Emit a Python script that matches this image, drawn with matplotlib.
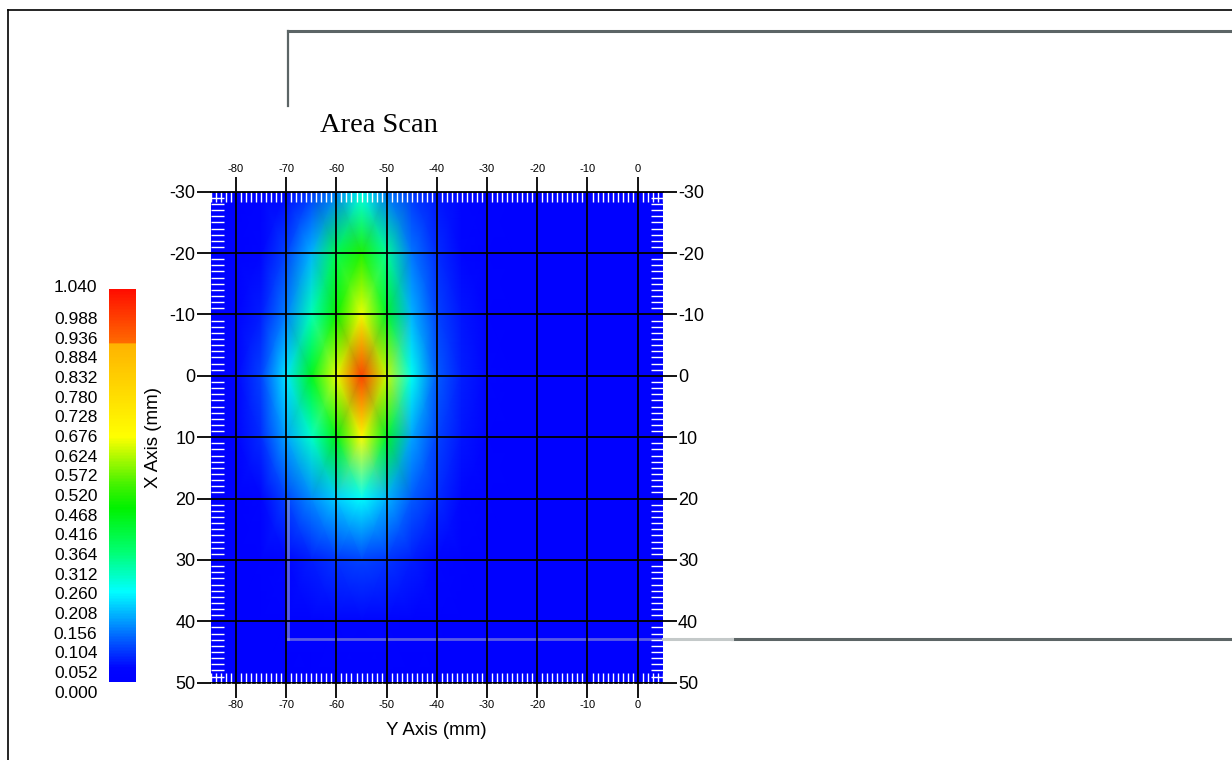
import numpy as np
import matplotlib.pyplot as plt
from matplotlib.colors import LinearSegmentedColormap
from matplotlib.lines import Line2D
from matplotlib.ticker import MultipleLocator
from matplotlib.transforms import offset_copy

plt.rcParams['font.family'] = ['Liberation Sans', 'DejaVu Sans']
plt.rcParams['axes.unicode_minus'] = False

# scan grid (mm): Y positions across, X positions down
y_pos = [-85, -80, -75, -70, -65, -60, -55, -50, -45, -40, -35, -30, -25, -20, -15, -10, -5, 0, 5]
x_pos = [-30, -20, -10, 0, 10, 20, 30, 40, 50]

# amplitude at each scan point, one row per X position
amp = [
    [0.01, 0.01, 0.02, 0.04, 0.08, 0.14, 0.25, 0.13, 0.08, 0.05, 0.03, 0.02, 0.01, 0.01, 0.01, 0.01, 0.01, 0.01, 0.01],
    [0.01, 0.02, 0.04, 0.09, 0.18, 0.38, 0.49, 0.32, 0.13, 0.07, 0.04, 0.02, 0.01, 0.01, 0.01, 0.01, 0.01, 0.01, 0.01],
    [0.01, 0.02, 0.06, 0.14, 0.29, 0.47, 0.64, 0.42, 0.18, 0.09, 0.05, 0.02, 0.01, 0.01, 0.01, 0.01, 0.01, 0.01, 0.01],
    [0.01, 0.03, 0.09, 0.22, 0.43, 0.63, 0.96, 0.61, 0.25, 0.11, 0.06, 0.03, 0.01, 0.01, 0.01, 0.01, 0.01, 0.01, 0.01],
    [0.01, 0.02, 0.07, 0.17, 0.28, 0.44, 0.66, 0.42, 0.17, 0.09, 0.05, 0.02, 0.01, 0.01, 0.01, 0.01, 0.01, 0.01, 0.01],
    [0.01, 0.01, 0.03, 0.09, 0.15, 0.20, 0.24, 0.18, 0.11, 0.07, 0.04, 0.02, 0.01, 0.01, 0.01, 0.01, 0.01, 0.01, 0.01],
    [0.01, 0.01, 0.02, 0.04, 0.06, 0.08, 0.09, 0.08, 0.06, 0.04, 0.02, 0.01, 0.01, 0.01, 0.01, 0.01, 0.01, 0.01, 0.01],
    [0.01, 0.01, 0.01, 0.02, 0.02, 0.03, 0.03, 0.03, 0.02, 0.02, 0.01, 0.01, 0.01, 0.01, 0.01, 0.01, 0.01, 0.01, 0.01],
    [0.01, 0.01, 0.01, 0.01, 0.01, 0.01, 0.01, 0.01, 0.01, 0.01, 0.01, 0.01, 0.01, 0.01, 0.01, 0.01, 0.01, 0.01, 0.01],
]

scale_max = 1.04
scale_labels = [round(0.052 * i, 3) for i in range(20)]

cmap = LinearSegmentedColormap.from_list('scan', [
    (0.000, (0.0, 0.0, 1.0)),
    (0.035, (0.0, 0.02, 1.0)),
    (0.100, (0.0, 0.33, 1.0)),
    (0.229, (0.0, 1.0, 1.0)),
    (0.330, (0.0, 1.0, 0.45)),
    (0.442, (0.0, 0.95, 0.0)),
    (0.500, (0.25, 0.95, 0.0)),
    (0.625, (1.0, 1.0, 0.0)),
    (0.862, (1.0, 0.70, 0.0)),
    (0.864, (1.0, 0.42, 0.0)),
    (1.000, (1.0, 0.05, 0.0)),
])

W, H = 1232, 760
fig = plt.figure(figsize=(W / 100, H / 100), dpi=100)


def px_line(x0, y0, x1, y1, **kw):
    fig.add_artist(Line2D([x0 / W, x1 / W], [1 - y0 / H, 1 - y1 / H],
                          transform=fig.transFigure, **kw))


# window frame and panel outline
px_line(8, 10, 8, 760, color='black', lw=1.2)
px_line(8, 10, 1232, 10, color='black', lw=1.2)
px_line(288, 31, 1232, 31, color='#5c6566', lw=2.2)
px_line(288, 31, 288, 106, color='#5c6566', lw=1.6)
px_line(732, 639, 1232, 639, color='#5c6566', lw=2.2)
px_line(663, 639, 732, 639, color='#c4c9c9', lw=2.2)

ax = fig.add_axes([210.9 / W, (H - 682.7) / H, 451.9 / W, 491 / H])
mesh = ax.pcolormesh(y_pos, x_pos, np.array(amp), shading='gouraud',
                     cmap=cmap, vmin=0, vmax=scale_max)
ax.set_xlim(-85, 5)
ax.set_ylim(50, -30)

ax.xaxis.set_major_locator(MultipleLocator(10))
ax.yaxis.set_major_locator(MultipleLocator(10))
ax.xaxis.set_minor_locator(MultipleLocator(1))
ax.yaxis.set_minor_locator(MultipleLocator(1))

ax.set_axisbelow(False)
ax.grid(which='major', color='black', lw=1.3)
for side in ['left', 'right']:
    ax.spines[side].set_visible(False)
for side in ['top', 'bottom']:
    ax.spines[side].set_color('black')
    ax.spines[side].set_linewidth(1.3)

ax.tick_params(axis='x', which='major', direction='out', length=11, width=1.3,
               color='black', top=True, bottom=True, labeltop=True,
               labelbottom=True, labelsize=8, pad=1.5)
ax.tick_params(axis='y', which='major', direction='out', length=10, width=1.3,
               color='black', left=True, right=True, labelleft=True,
               labelright=True, labelsize=13, pad=1)
ax.tick_params(axis='x', which='minor', direction='in', length=7, width=1,
               color='white', top=True, bottom=True)
ax.tick_params(axis='y', which='minor', direction='in', length=9, width=1,
               color='white', left=True, right=True)

# faint panel edge showing through the plot
ax.plot([-69.7, -69.7], [20.3, 42.8], color='#c4c9c9', lw=2, alpha=0.45)
ax.plot([-69.7, 5], [42.8, 42.8], color='#c4c9c9', lw=2, alpha=0.45,
        clip_on=False)

fig.text(436.7 / W, 1 - 735 / H, 'Y Axis (mm)', ha='center', va='baseline',
         fontsize=13.5)
fig.text(153.4 / W, 1 - 437.5 / H, 'X Axis (mm)', ha='center', va='center',
         rotation=90, fontsize=13.5)
fig.text(320 / W, 1 - 131.5 / H, 'Area Scan', ha='left', va='baseline',
         fontsize=20.5, family='Liberation Serif')

# colour scale
cax = fig.add_axes([108.5 / W, (H - 682) / H, 27.5 / W, 393 / H])
cbar = fig.colorbar(mesh, cax=cax)
cbar.outline.set_visible(False)
cax.set_yticks([])
cax.set_ylim(0, scale_max)
lab_tr = offset_copy(cax.get_yaxis_transform(), fig=fig, x=-11, y=-11, units='dots')
top_tr = offset_copy(cax.get_yaxis_transform(), fig=fig, x=-11, y=1.5, units='dots')
for v in scale_labels:
    cax.text(0, v, f'{v:.3f}', transform=lab_tr, ha='right', va='center',
             fontsize=12.5)
cax.text(0, scale_max, f'{scale_max:.3f}', transform=top_tr, ha='right',
         va='center', fontsize=12.5)

fig.savefig('out.png', dpi=100)
